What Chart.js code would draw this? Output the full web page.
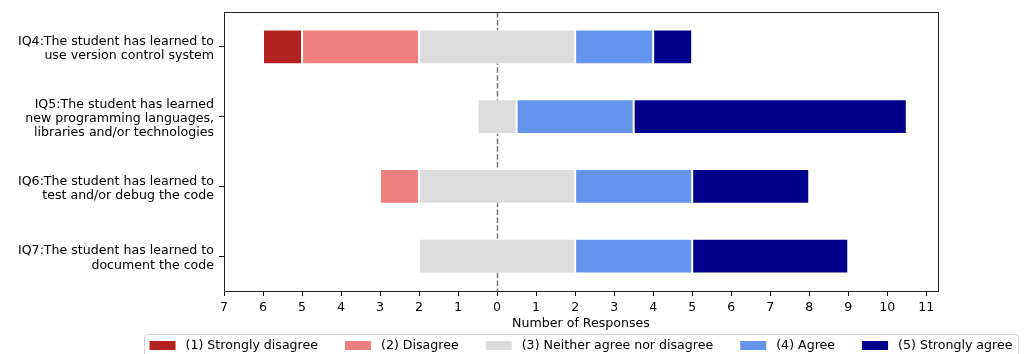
<!DOCTYPE html>
<html>
<head>
<meta charset="utf-8">
<script src="https://cdn.jsdelivr.net/npm/chart.js@4/dist/chart.umd.min.js"></script>
<style>
  body { margin: 0; background: #fff; }
</style>
</head>
<body>
<canvas id="chart" width="1027" height="354"></canvas>
<script>
// questions (y axis), one entry per line of the label
const categories = [
  ["IQ4:The student has learned to", "use version control system"],
  ["IQ5:The student has learned", "new programming languages,", "libraries and/or technologies"],
  ["IQ6:The student has learned to", "test and/or debug the code"],
  ["IQ7:The student has learned to", "document the code"]
];

const answerLabels = ["(1) Strongly disagree", "(2) Disagree", "(3) Neither agree nor disagree", "(4) Agree", "(5) Strongly agree"];
const answerColors = ["#b22222", "#f08080", "#dcdcdc", "#6495ed", "#00008b"];

// number of responses per answer, one value per question
const stronglyDisagree = [1, 0, 0, 0];
const disagree = [3, 0, 1, 0];
const neutral = [4, 1, 4, 4];
const agree = [2, 3, 3, 3];
const stronglyAgree = [1, 7, 3, 4];

const xTicks = [-7, -6, -5, -4, -3, -2, -1, 0, 1, 2, 3, 4, 5, 6, 7, 8, 9, 10, 11];

const counts = [stronglyDisagree, disagree, neutral, agree, stronglyAgree];

// diverging layout: neutral block centred on zero
let starts = categories.map((c, i) => -(stronglyDisagree[i] + disagree[i] + neutral[i] / 2));
let datasets = counts.map((series, k) => {
  let data = series.map((v, i) => {
    let from = starts[i];
    starts[i] += v;
    return v > 0 ? [from, from + v] : null;
  });
  return {
    label: answerLabels[k],
    data: data,
    backgroundColor: answerColors[k],
    borderColor: "rgba(255,255,255,0.55)",
    borderWidth: 1,
    borderSkipped: false,
    grouped: false,
    barPercentage: 0.5,
    categoryPercentage: 1.0
  };
});

const font = { family: "DejaVu Sans", size: 12.6 };

// dashed line at zero, behind the bars
const zeroLine = {
  id: "zeroLine",
  beforeDatasetsDraw(chart) {
    let c = chart.ctx;
    let area = chart.chartArea;
    let x = Math.round(chart.scales.x.getPixelForValue(0)) + 0.5;
    c.save();
    c.strokeStyle = "#777";
    c.lineWidth = 1.5;
    c.setLineDash([5.5, 2.4]);
    c.beginPath();
    c.moveTo(x, area.top);
    c.lineTo(x, area.bottom);
    c.stroke();
    c.restore();
  }
};

// frame all round the plot + boxed legend under it
const frameAndLegend = {
  id: "frameAndLegend",
  afterDraw(chart) {
    let c = chart.ctx;
    let area = chart.chartArea;
    c.save();
    c.strokeStyle = "#222";
    c.lineWidth = 1;
    c.strokeRect(Math.round(area.left) + 0.5, Math.round(area.top) + 0.5,
      Math.round(area.right - area.left), Math.round(area.bottom - area.top));

    c.font = "12.6px 'DejaVu Sans'";
    let items = chart.data.datasets.map(ds => ({ text: ds.label, color: ds.backgroundColor, w: c.measureText(ds.label).width }));
    let patchW = 26, patchH = 9, patchGap = 10, itemGap = 27, pad = 5.5;
    let total = items.reduce((s, it) => s + patchW + patchGap + it.w, 0) + itemGap * (items.length - 1);
    let x = (area.left + area.right) / 2 - total / 2;
    let top = 334.5, midY = 345.5;

    c.strokeStyle = "#d0d0d0";
    c.beginPath();
    c.roundRect(Math.round(x - pad) + 0.5, top, Math.round(total + 2 * pad), 30, 3);
    c.stroke();

    c.textBaseline = "middle";
    items.forEach(it => {
      c.fillStyle = it.color;
      c.fillRect(x, midY - patchH / 2, patchW, patchH);
      c.fillStyle = "#000";
      c.fillText(it.text, x + patchW + patchGap, midY + 0.5);
      x += patchW + patchGap + it.w + itemGap;
    });
    c.restore();
  }
};

const ctx = document.getElementById("chart").getContext("2d");
const chart = new Chart(ctx, {
  type: "bar",
  data: { labels: categories, datasets: datasets },
  options: {
    indexAxis: "y",
    responsive: false,
    animation: false,
    layout: { padding: { left: 0, right: 89, top: 12, bottom: 0 } },
    plugins: {
      legend: { display: false },
      tooltip: { enabled: false }
    },
    scales: {
      x: {
        min: -7,
        max: 11.3,
        afterBuildTicks: scale => { scale.ticks = xTicks.map(v => ({ value: v })); },
        ticks: {
          callback: v => Math.abs(v),
          color: "#000",
          font: font,
          padding: 4,
          maxRotation: 0,
          autoSkip: false
        },
        grid: { drawOnChartArea: false, tickLength: 5, color: "#000" },
        border: { display: false },
        title: {
          display: true,
          text: "Number of Responses",
          color: "#000",
          font: font,
          padding: { top: 0, bottom: 23 }
        },
        afterFit: scale => { scale.height = 63; }
      },
      y: {
        ticks: {
          color: "#000",
          font: { family: "DejaVu Sans", size: 12.6, lineHeight: 1.13 },
          padding: 5,
          labelOffset: 2
        },
        grid: { drawOnChartArea: false, offset: false, tickLength: 5, color: "#000" },
        border: { display: false },
        afterFit: scale => {
          scale.width = 224;
          scale.paddingTop = 0;
          scale.paddingBottom = 0;
        }
      }
    }
  },
  plugins: [zeroLine, frameAndLegend]
});
</script>
</body>
</html>
